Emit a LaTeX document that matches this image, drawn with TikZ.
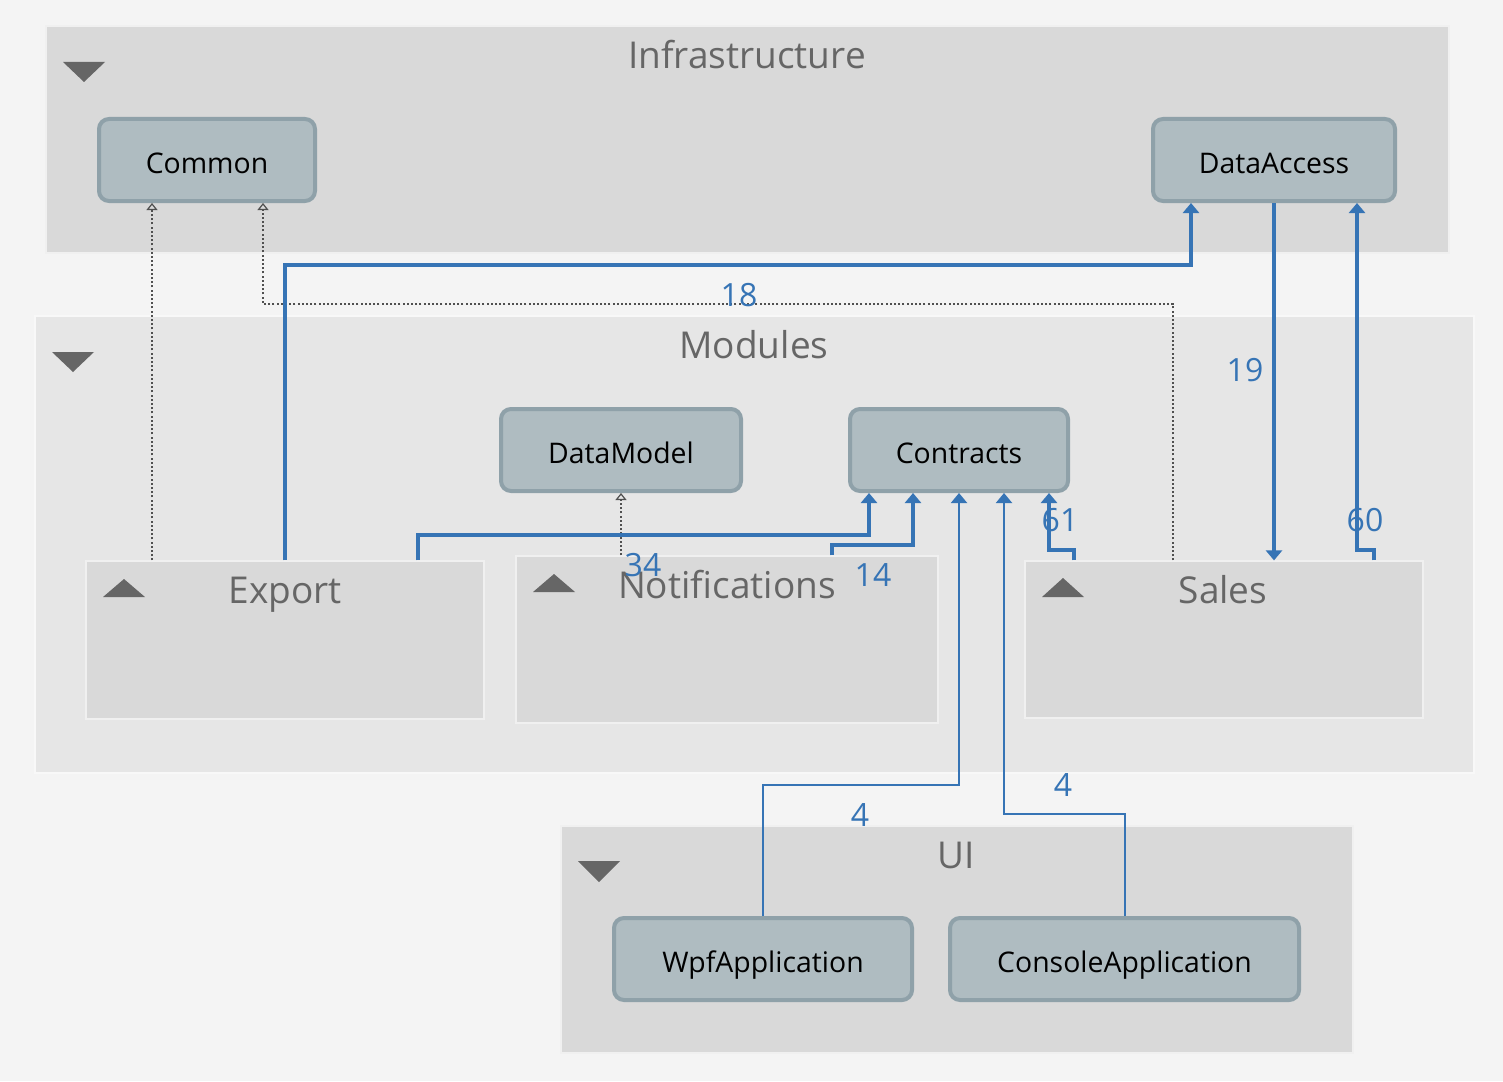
\documentclass[tikz,border=0pt]{standalone}
\usepackage{fontspec}
\setmainfont{Open Sans}
\usetikzlibrary{arrows.meta}
\definecolor{bgc}{HTML}{F4F4F4}
\definecolor{grpA}{HTML}{D9D9D9}
\definecolor{grpB}{HTML}{E6E6E6}
\definecolor{nodefill}{HTML}{AFBCC1}
\definecolor{nodeline}{HTML}{8FA1A9}
\definecolor{edgeblue}{HTML}{3674B5}
\definecolor{titlegray}{HTML}{666666}
\definecolor{dotgray}{HTML}{505050}
\tikzset{
  grpbox/.style={rectangle, fill=grpA, draw=white!60!grpA, line width=0.6pt, inner sep=0pt},
  modbox/.style={rectangle, fill=grpB, draw=white!70!grpB, line width=1pt, inner sep=0pt},
  mod/.style={rectangle, rounded corners=5pt, fill=nodefill, draw=nodeline, line width=2pt,
     font=\fontsize{14.2}{16}\selectfont, text=black, inner sep=0pt,
     text height=13.1pt, text depth=0pt},
  gtitle/.style={font=\fontsize{18.5}{21}\selectfont, text=titlegray, inner sep=0pt,
     text height=13.3pt, text depth=0pt},
  tri/.style={fill=titlegray, draw=none},
  dep/.style={draw=edgeblue, line width=2pt, -{Triangle[width=8pt,length=5pt]}},
  depthin/.style={draw=edgeblue, line width=1pt, -{Triangle[width=8pt,length=5pt]}},
  ref/.style={draw=dotgray, line width=1.3pt, dash pattern=on 1pt off 1.1pt,
     -{Triangle[open,width=5.5pt,length=3.5pt,line width=0.6pt]}},
  cnt/.style={font=\fontsize{16}{18}\selectfont, text=edgeblue, inner sep=0pt}
}
\begin{document}
\begin{tikzpicture}[x=0.5pt,y=-0.5pt]
\fill[bgc] (0,0) rectangle (1503,1081);
\useasboundingbox (0,0) rectangle (1503,1081);
% groups
\node[grpbox, minimum width=701.5pt, minimum height=113.5pt] (infra) at (747.5,139.5) {};
\node[modbox, minimum width=719.5pt, minimum height=228.5pt] (modules) at (754.5,544.5) {};
\node[grpbox, minimum width=199pt, minimum height=79pt] (export) at (285,640) {};
\node[grpbox, minimum width=211pt, minimum height=83.5pt] (notif) at (727,639.5) {};
\node[grpbox, minimum width=199pt, minimum height=78.5pt] (sales) at (1224,639.5) {};
\node[grpbox, minimum width=396pt, minimum height=113.5pt] (ui) at (957,939.5) {};
% titles
\node[gtitle] (tinfra) at (747,55) {Infrastructure};
\node[gtitle] (tmod) at (754,345) {Modules};
\node[gtitle] (texp) at (285,590) {Export};
\node[gtitle] (tnot) at (727,585) {Notifications};
\node[gtitle] (tsal) at (1223,590) {Sales};
\node[gtitle] (tui) at (956,855) {UI};
% toggles
\fill[tri] (63,62) -- (105,62) -- (84,82) -- cycle;
\fill[tri] (52,352) -- (94,352) -- (73,372) -- cycle;
\fill[tri] (578,861) -- (620,861) -- (599,882) -- cycle;
\fill[tri] (103,597) -- (145,597) -- (124,579) -- cycle;
\fill[tri] (533,592) -- (575,592) -- (554,574) -- cycle;
\fill[tri] (1042,597) -- (1084,597) -- (1063,578) -- cycle;
% nodes
\node[mod, minimum width=108pt, minimum height=41pt] (common) at (207,160) {Common};
\node[mod, minimum width=121pt, minimum height=41pt] (dataaccess) at (1274,160) {DataAccess};
\node[mod, minimum width=120pt, minimum height=41pt] (datamodel) at (621,450) {DataModel};
\node[mod, minimum width=109pt, minimum height=41pt] (contracts) at (959,450) {Contracts};
\node[mod, minimum width=149pt, minimum height=41pt] (wpf) at (763,959) {WpfApplication};
\node[mod, minimum width=174.5pt, minimum height=41pt] (console) at (1124.5,959) {ConsoleApplication};
% dotted references
\draw[ref] (export.north -| 152,0) -- (common.south -| 152,0);
\draw[ref] (sales.north -| 1173,0) |- (263,304) -- (common.south -| 263,0);
\draw[ref] (notif.north -| 621,0) -- (datamodel.south);
% dependencies
\draw[dep] (export.north) |- (1191,265) -- (dataaccess.south -| 1191,0);
\draw[dep] (export.north -| 418,0) |- (869,535) -- (contracts.south -| 869,0);
\draw[dep] (notif.north -| 832,0) |- (913,545) -- (contracts.south -| 913,0);
\draw[dep] (dataaccess.south) -- (sales.north -| 1274,0);
\draw[dep] (sales.north -| 1374,0) |- (1357,550) -- (dataaccess.south -| 1357,0);
\draw[dep] (sales.north -| 1074,0) |- (1049,550) -- (contracts.south -| 1049,0);
\draw[depthin] (wpf.north) |- (959,785) -- (contracts.south);
\draw[depthin] (console.north -| 1125,0) |- (1004,814) -- (contracts.south -| 1004,0);
% counts
\node[cnt] (c18) at (739,295) {18};
\node[cnt] (c34) at (643,565) {34};
\node[cnt] (c14) at (873,575) {14};
\node[cnt] (c61) at (1060,520) {61};
\node[cnt] (c60) at (1365,520) {60};
\node[cnt] (c19) at (1245,370) {19};
\node[cnt] (c4a) at (860,815) {4};
\node[cnt] (c4b) at (1063,785) {4};
\end{tikzpicture}
\end{document}
